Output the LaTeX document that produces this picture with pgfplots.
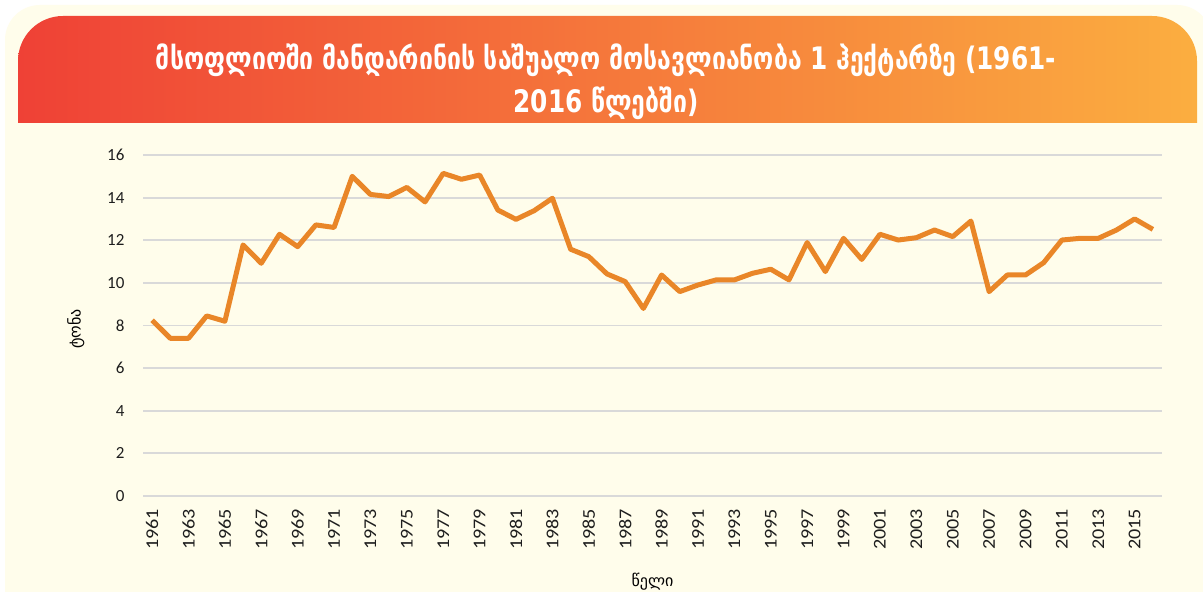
\documentclass[border=0pt]{standalone}
\usepackage{pgfplots}
\pgfplotsset{compat=1.18}
\usepackage{fontspec}
\setmainfont{Carlito}
\newfontfamily\geo{DejaVu Sans}
\newfontfamily\geotitle{DejaVu Sans}[FakeStretch=0.8]
\definecolor{cream}{RGB}{255,253,235}
\definecolor{bannerL}{RGB}{239,65,54}
\definecolor{bannerR}{RGB}{251,174,64}
\definecolor{lineorange}{RGB}{233,134,40}
\definecolor{gridgray}{RGB}{217,217,217}
\definecolor{ticktext}{RGB}{30,30,30}
\begin{document}
\begin{tikzpicture}[x=1pt,y=1pt]
\path[use as bounding box] (0,0) rectangle (1203,592);
\fill[white] (0,0) rectangle (1203,592);
\begin{scope}
\clip (0,0) rectangle (1203,592);
\fill[cream, rounded corners=35pt] (5,-60) rectangle (1212,587);
\end{scope}
\shade[left color=bannerL, right color=bannerR] (18,469) -- (18,531) arc[start angle=180,end angle=90,radius=45] -- (1152,576) arc[start angle=90,end angle=0,radius=45] -- (1197,469) -- cycle;
\node[text=white, align=center, font=\geotitle\bfseries\fontsize{31}{43}\selectfont] at (606,510) {მსოფლიოში მანდარინის საშუალო მოსავლიანობა 1 ჰექტარზე (1961-\\2016 წლებში)};
\begin{axis}[at={(143pt,96pt)}, anchor=south west, scale only axis,
  width=1019pt, height=341pt,
  xmin=1960.5, xmax=2016.5, ymin=0, ymax=16,
  ytick={0,2,...,16}, xtick={1961,1963,...,2015},
  axis line style={draw=none},
  major tick length=0pt,
  ymajorgrids, major grid style={gridgray, line width=1.8pt},
  /pgf/number format/1000 sep={},
  /pgf/number format/assume math mode=true,
  tick label style={text=ticktext},
  yticklabel style={font=\fontsize{17}{17}\selectfont, xshift=-15pt},
  xticklabel style={font=\fontsize{18}{18}\selectfont, rotate=90, anchor=east, xshift=-9pt, xscale=1.12},
  xlabel={\geo წელი}, ylabel={\geo ტონა},
  xlabel style={font=\fontsize{16}{16}\selectfont, at={(axis description cs:0.5,-0.252)}, anchor=center},
  ylabel style={font=\fontsize{16}{16}\selectfont, at={(axis description cs:-0.066,0.49)}, anchor=center},
  clip=false]
\addplot[color=lineorange, line width=5pt, line join=round] coordinates {
(1961,8.25) (1962,7.4) (1963,7.4) (1964,8.45) (1965,8.2) (1966,11.78) (1967,10.92) (1968,12.28)
(1969,11.7) (1970,12.72) (1971,12.6) (1972,15.0) (1973,14.15) (1974,14.05) (1975,14.48) (1976,13.8)
(1977,15.14) (1978,14.86) (1979,15.06) (1980,13.42) (1981,12.98) (1982,13.39) (1983,13.97) (1984,11.58)
(1985,11.23) (1986,10.42) (1987,10.06) (1988,8.8) (1989,10.37) (1990,9.59) (1991,9.9) (1992,10.14)
(1993,10.14) (1994,10.45) (1995,10.64) (1996,10.14) (1997,11.89) (1998,10.53) (1999,12.09) (2000,11.1)
(2001,12.28) (2002,12.01) (2003,12.12) (2004,12.48) (2005,12.17) (2006,12.9) (2007,9.59) (2008,10.37)
(2009,10.37) (2010,10.95) (2011,12.01) (2012,12.09) (2013,12.09) (2014,12.48) (2015,13.0) (2016,12.51)
};
\end{axis}
\end{tikzpicture}
\end{document}
